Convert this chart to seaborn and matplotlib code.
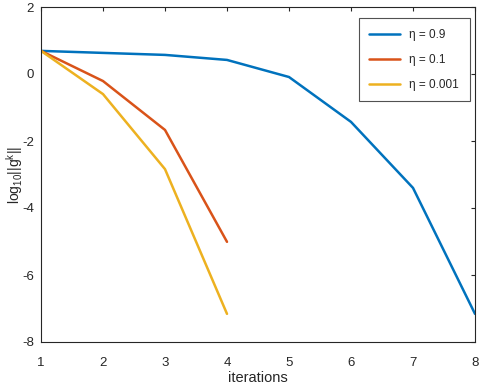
import pandas as pd
import seaborn as sns
from matplotlib import pyplot as plt

iters = [1, 2, 3, 4, 5, 6, 7, 8]
g_09 = [0.69, 0.63, 0.57, 0.42, -0.09, -1.43, -3.40, -7.16]
g_01 = [0.69, -0.21, -1.67, -5.01]
g_0001 = [0.69, -0.60, -2.84, -7.16]
labels = ["η = 0.9", "η = 0.1", "η = 0.001"]
colors = ["#0072BD", "#D95319", "#EDB120"]

rows = []
for lab, vals in zip(labels, [g_09, g_01, g_0001]):
    for it, v in zip(iters, vals):
        rows.append({"iterations": it, "val": v, "eta": lab})
df = pd.DataFrame(rows)

sns.set_style("white")
plt.rcParams["font.family"] = ["Liberation Sans", "DejaVu Sans"]
plt.rcParams["axes.unicode_minus"] = False

fig = plt.figure(figsize=(4.94, 3.84), dpi=100)
ax = fig.add_axes([41 / 494, 1 - 342 / 384, 434 / 494, 335 / 384])
sns.lineplot(data=df, x="iterations", y="val", hue="eta", palette=colors,
             hue_order=labels, linewidth=1.8, ax=ax)

ax.set_xlim(1, 8)
ax.set_ylim(-8, 2)
ax.set_xticks(iters)
ax.set_yticks([-8, -6, -4, -2, 0, 2])
ax.tick_params(direction="in", length=3, labelsize=9.5, colors="#262626",
               top=True, right=True, labeltop=False, labelright=False)
ax.tick_params(axis="x", pad=11)
ax.tick_params(axis="y", pad=5)
for s in ax.spines.values():
    s.set_color("#262626")
    s.set_linewidth(0.8)
ax.set_xlabel("iterations", fontsize=10.5, labelpad=1)
ax.set_ylabel(r"$\mathregular{log_{10}||g^k||}$", fontsize=10)
ax.yaxis.set_label_coords(-0.038, 0.5)

leg = ax.legend(loc="upper right", fontsize=8.5, frameon=True, fancybox=False,
                edgecolor="#262626", borderpad=0.9, labelspacing=1.1,
                handlelength=2.6, borderaxespad=0,
                bbox_to_anchor=(0.988, 0.967))
leg.get_frame().set_linewidth(0.8)

fig.savefig("out.png", dpi=100)
